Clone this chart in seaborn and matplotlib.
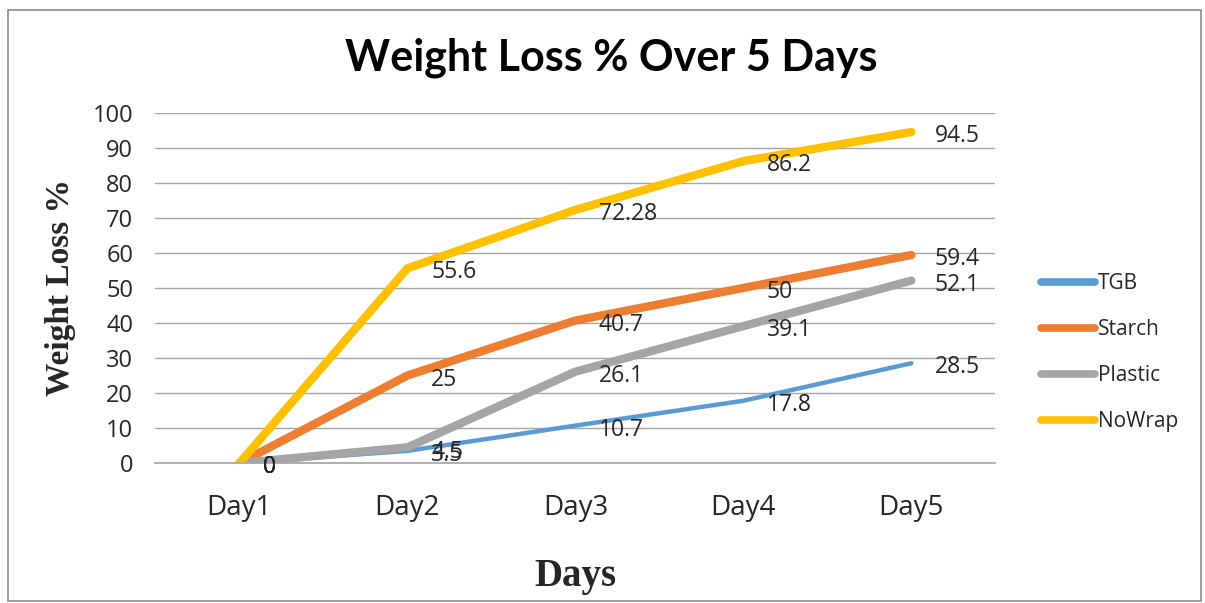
import matplotlib
matplotlib.use("Agg")
import matplotlib.pyplot as plt
import seaborn as sns
import pandas as pd
from matplotlib.patches import Rectangle
from matplotlib.lines import Line2D

days = ["Day1", "Day2", "Day3", "Day4", "Day5"]
tgb = [0, 3.5, 10.7, 17.8, 28.5]
starch = [0, 25, 40.7, 50, 59.4]
plastic = [0, 4.5, 26.1, 39.1, 52.1]
nowrap = [0, 55.6, 72.28, 86.2, 94.5]
series_names = ["TGB", "Starch", "Plastic", "NoWrap"]
colors = ["#5B9BD5", "#ED7D31", "#A5A5A5", "#FFC000"]
widths = [3.2, 6, 6, 6]

sns.set_theme(style="white")
plt.rcParams['font.family'] = ['Lato', 'DejaVu Sans']

rows = []
for name, vals in zip(series_names, [tgb, starch, plastic, nowrap]):
    for i, v in enumerate(vals):
        rows.append({"x": i, "day": days[i], "value": v, "series": name})
df = pd.DataFrame(rows)

fig = plt.figure(figsize=(12.05, 6.03), dpi=100)
ax = fig.add_axes([0.129, 0.232, 0.697, 0.581])

for name, col, lw in zip(series_names, colors, widths):
    sub = df[df.series == name]
    sns.lineplot(data=sub, x="x", y="value", ax=ax, color=col, linewidth=lw,
                 solid_capstyle="round", legend=False)

for name in series_names:
    sub = df[df.series == name]
    for _, r in sub.iterrows():
        lab = f"{r.value:g}"
        ax.annotate(lab, (r.x, r.value), xytext=(17, -3), textcoords="offset points",
                    ha="left", va="center", fontsize=16.5, color="#262626",
                    family=["Open Sans", "DejaVu Sans"])

ax.set_xlim(-0.5, 4.5)
ax.set_ylim(0, 100)
ax.set_yticks(range(0, 101, 10))
ax.set_xticks(range(5))
ax.set_xticklabels(days, fontsize=20, family=["Open Sans", "DejaVu Sans"])
ax.tick_params(axis="y", labelsize=17, length=0, pad=16, labelcolor="#262626")
ax.tick_params(axis="x", length=0, pad=22, labelcolor="#262626")
for lab in ax.get_yticklabels():
    lab.set_family(["Open Sans", "DejaVu Sans"])
ax.yaxis.grid(True, color="#A6A6A6", linewidth=1)
ax.set_axisbelow(True)
for s in ["top", "right", "left"]:
    ax.spines[s].set_visible(False)
ax.spines["bottom"].set_color("#A6A6A6")

ax.set_xlabel("Days", fontsize=28, fontweight="bold", family=["Liberation Serif"], labelpad=26)
ax.set_ylabel("Weight Loss %", fontsize=24, fontweight="bold", family=["Liberation Serif"], labelpad=12)

fig.text(0.507, 0.905, "Weight Loss % Over 5 Days", ha="center", va="center",
         fontsize=31, fontweight="bold", color="black", family=["Lato", "DejaVu Sans"])

handles = [Line2D([0], [0], color=c, linewidth=5.5, solid_capstyle="round")
           for n, c in zip(series_names, colors)]
leg = fig.legend(handles, series_names, loc="center left", bbox_to_anchor=(0.848, 0.415),
                 frameon=False, handlelength=2.6, handletextpad=0.15,
                 labelspacing=1.2, prop={"family": ["Open Sans", "DejaVu Sans"], "size": 15})
for t in leg.get_texts():
    t.set_color("#262626")

fig.patches.append(Rectangle((0.007, 0.003), 0.99, 0.98, transform=fig.transFigure,
                             fill=False, edgecolor="#8C8C8C", linewidth=1.2))

fig.savefig("out.png", dpi=100)
